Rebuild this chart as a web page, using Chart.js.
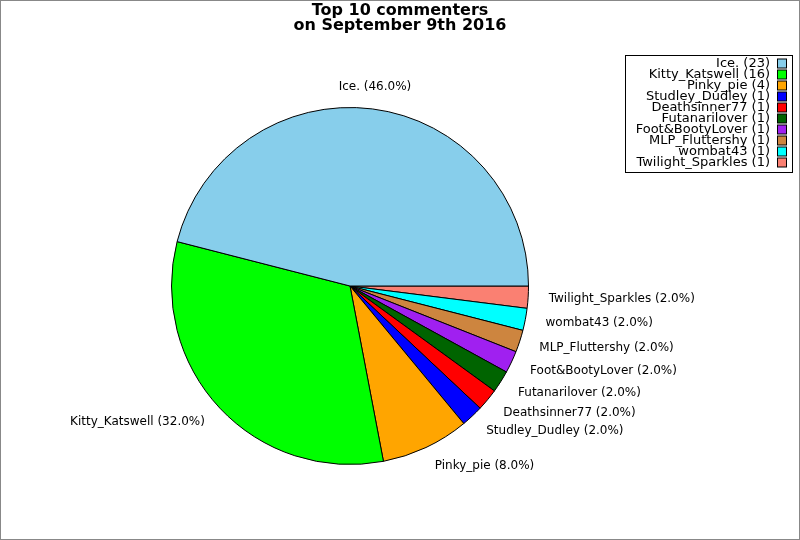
<!DOCTYPE html>
<html>
<head>
<meta charset="utf-8">
<script src="https://cdn.jsdelivr.net/npm/chart.js@4/dist/chart.umd.min.js"></script>
<style>
  html, body { margin: 0; padding: 0; background: #fff; }
  #wrap { width: 800px; height: 540px; position: relative; }
</style>
</head>
<body>
<div id="wrap"><canvas id="pieChart" width="800" height="540"></canvas></div>
<script>
const names = ['Ice.', 'Kitty_Katswell', 'Pinky_pie', 'Studley_Dudley', 'Deathsinner77',
    'Futanarilover', 'Foot&BootyLover', 'MLP_Fluttershy', 'wombat43', 'Twilight_Sparkles'];
const counts = [23, 16, 4, 1, 1, 1, 1, 1, 1, 1];
const colors = ['#87CEEB', '#00FF00', '#FFA500', '#0000FF', '#FF0000',
    '#006400', '#A020F0', '#CD853F', '#00FFFF', '#FA8072'];
const titleLines = ['Top 10 commenters', 'on September 9th 2016'];

const total = counts.reduce((a, b) => a + b, 0);
const FONT = '"DejaVu Sans", sans-serif';

// the reference runs counter-clockwise from 3 o'clock, chart.js runs clockwise,
// so feed the slices in reverse order
const revNames = names.slice().reverse();
const revCounts = counts.slice().reverse();
const revColors = colors.slice().reverse();

const extras = {
    id: 'extras',
    beforeDraw(chart) {
        const ctx = chart.ctx;
        ctx.save();
        ctx.fillStyle = '#fff';
        ctx.fillRect(0, 0, chart.width, chart.height);
        ctx.restore();
    },
    afterDraw(chart) {
        const ctx = chart.ctx;
        ctx.save();

        // outer frame
        ctx.strokeStyle = '#888';
        ctx.lineWidth = 1;
        ctx.strokeRect(0.5, 0.5, chart.width - 1, chart.height - 1);

        // title
        ctx.fillStyle = '#000';
        ctx.font = 'bold 16px ' + FONT;
        ctx.textAlign = 'center';
        ctx.textBaseline = 'middle';
        titleLines.forEach((t, i) => ctx.fillText(t, 400, 11 + i * 15));

        // slice labels
        ctx.font = '12px ' + FONT;
        const arcs = chart.getDatasetMeta(0).data;
        arcs.forEach((arc, i) => {
            const mid = (arc.startAngle + arc.endAngle) / 2;
            const r = arc.outerRadius * 1.115;
            const x = arc.x + Math.cos(mid) * r;
            const y = arc.y + Math.sin(mid) * r;
            const c = Math.cos(mid);
            ctx.textAlign = Math.abs(c) < 0.2 ? 'center' : (c > 0 ? 'left' : 'right');
            const pct = (revCounts[i] / total * 100).toFixed(1);
            ctx.fillText(revNames[i] + ' (' + pct + '%)', x, y - (Math.abs(c) < 0.2 ? 2 : 0));
        });

        // legend box
        ctx.strokeStyle = '#000';
        ctx.strokeRect(625.5, 55.5, 167, 117);
        ctx.font = '13px ' + FONT;
        ctx.textAlign = 'right';
        names.forEach((n, i) => {
            const y = 63.5 + i * 11;
            ctx.fillStyle = '#000';
            ctx.fillText(n + ' (' + counts[i] + ')', 770, y);
            ctx.fillStyle = colors[i];
            ctx.fillRect(777.5, y - 4.5, 9, 9);
            ctx.strokeRect(777.5, y - 4.5, 9, 9);
        });
        ctx.restore();
    }
};

new Chart(document.getElementById('pieChart').getContext('2d'), {
    type: 'pie',
    data: {
        labels: revNames,
        datasets: [{
            data: revCounts,
            backgroundColor: revColors,
            borderColor: '#000',
            borderWidth: 1
        }]
    },
    options: {
        responsive: false,
        animation: false,
        rotation: 90,
        layout: { padding: { top: 107, bottom: 75, left: 171, right: 271 } },
        plugins: {
            legend: { display: false },
            title: { display: false },
            tooltip: { enabled: false }
        }
    },
    plugins: [extras]
});
</script>
</body>
</html>
